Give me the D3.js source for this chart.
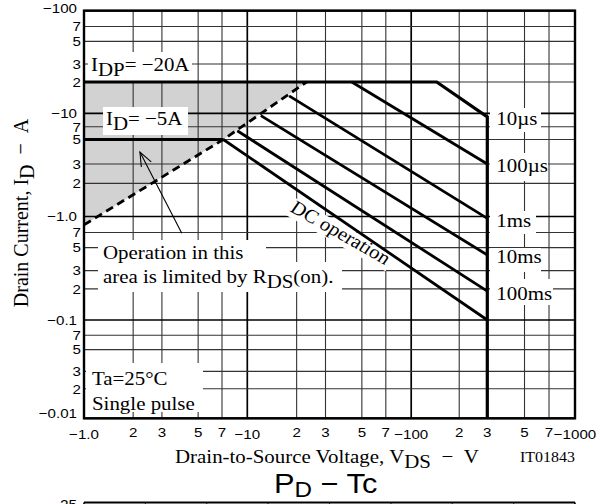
<!DOCTYPE html>
<html><head><meta charset="utf-8">
<script src="https://cdn.jsdelivr.net/npm/d3@7"></script>
<style>html,body{margin:0;padding:0;background:#fff;overflow:hidden}</style>
</head><body>
<svg id="c" width="615" height="504"></svg>
<script>
// ---------- data ----------
const xTicks = [1,2,3,5,7,10,20,30,50,70,100,200,300,500,700,1000];
const xTickLabels = ["−1.0","2","3","5","7","−10","2","3","5","7","−100","2","3","5","7","−1000"];
const yTicks = [0.01,0.02,0.03,0.05,0.07,0.1,0.2,0.3,0.5,0.7,1,2,3,5,7,10,20,30,50,70,100];
const yTickLabels = ["−0.01","2","3","5","7","−0.1","2","3","5","7","−1.0","2","3","5","7","−10","2","3","5","7","−100"];

// SOA outline: I_DP limit, 10µs power limit, V_DSS limit
const limitV = [1, 144.5, 300, 300];
const limitI = [20, 20, 9.1, 0.01];
// I_D = -5A continuous limit
const idV = [1, 7.13];
const idI = [5, 5];
// R_DS(on) limit (dashed)
const rdsV = [1, 7.13, 23.0];
const rdsI = [0.83, 5, 20];
// pulse lines
const pulseNames  = ["100µs","1ms","10ms","100ms","DC"];
const pulseStartV = [43.4, 18.0, 12.1, 8.68, 7.13];
const pulseStartI = [20, 14.7, 9.4, 6.3, 5];
const pulseEndV   = [300, 300, 300, 300, 300];
const pulseEndI   = [3.0, 0.96, 0.425, 0.19, 0.1];
// right-hand labels
const rightLabels = ["10µs","100µs","1ms","10ms","100ms"];
const rightLabelI = [9.1, 3.0, 0.96, 0.425, 0.19];
// arrow (tail -> tip) in data units
const arrowV = [3.97, 2.2];
const arrowI = [0.69, 3.85];
// next chart (P_D - Tc) partially visible
const nextTcTicks = [0,20,40,60,80,100,120,140,160];

// ---------- scales ----------
const x = d3.scaleLog().domain([1,10,100,300,1000]).range([84,247.3,411.2,487.3,575]);
const y = d3.scaleLog().domain([0.01,0.1,1,5,10,20,100]).range([418.3,320,216.5,139.5,113.3,82,10.7]);

const SERIF = "'Liberation Serif','Times New Roman',serif";
const SANS = "'Liberation Sans',Arial,Helvetica,sans-serif";
const svg = d3.select("#c");

function label(parent, px, py, parts, opt = {}) {
  const g = parent.append("g").attr("transform", `translate(${px},${py}) ${opt.rot ? "rotate(" + opt.rot + ")" : ""} scale(${opt.sx || 1.1},${opt.sy || 1})`);
  const t = g.append("text")
    .attr("font-family", opt.family || SERIF)
    .attr("font-size", opt.size || 19)
    .attr("text-anchor", opt.anchor || "start")
    .attr("fill", "#000");
  parts.forEach(p => {
    const s = t.append("tspan").text(p[0]);
    if (p[1]) s.attr("dy", p[1]);
    if (p[2]) s.attr("font-size", p[2]);
  });
  return g;
}

// ---------- shaded R_DS(on) region ----------
const shadePts = rdsV.map((v, i) => [v, rdsI[i]]).concat([[rdsV[0], 20]]);
svg.append("path")
  .attr("d", d3.line().x(d => x(d[0])).y(d => y(d[1]))(shadePts) + "Z")
  .attr("fill", "#d2d2d2").attr("stroke", "none");

// ---------- grid ----------
const isDecade = v => Math.abs(Math.log10(v) - Math.round(Math.log10(v))) < 1e-9;
const grid = svg.append("g");
grid.selectAll("line.v").data(xTicks).join("line")
  .attr("x1", d => x(d)).attr("x2", d => x(d))
  .attr("y1", y(100)).attr("y2", y(0.01))
  .attr("stroke", d => isDecade(d) ? "#000" : "#333")
  .attr("stroke-width", d => isDecade(d) ? 1.7 : 1.1);
grid.selectAll("line.h").data(yTicks).join("line")
  .attr("y1", d => y(d)).attr("y2", d => y(d))
  .attr("x1", x(1)).attr("x2", x(1000))
  .attr("stroke", d => isDecade(d) ? "#000" : "#333")
  .attr("stroke-width", d => isDecade(d) ? 1.7 : 1.1);

// ---------- white label boxes (break the grid) ----------
const boxes = [
  [88,52,192,81],
  [103,107,188,135],
  [98,240,266,265],[98,262,342,292],
  [86,363,203,412],
  [490,108,541,132],[490,153,548,181],[490,211,536,234],[490,248,541,272],[490,279,553,305]
];
svg.append("g").selectAll("rect").data(boxes).join("rect")
  .attr("x", d => d[0]).attr("y", d => d[1])
  .attr("width", d => d[2] - d[0]).attr("height", d => d[3] - d[1])
  .attr("fill", "#fff");

// DC operation label (rotated, white box behind)
const dcAng = Math.atan2(y(pulseEndI[4]) - y(pulseStartI[4]), x(pulseEndV[4]) - x(pulseStartV[4]));
const dcRot = Math.atan(Math.tan(dcAng) / 1.1) * 180 / Math.PI;
const dcG = svg.append("g").attr("transform", `translate(337,238) scale(1.1,1) rotate(${dcRot})`);
dcG.append("rect").attr("x", -55).attr("y", -14).attr("width", 110).attr("height", 19).attr("fill", "#fff");
dcG.append("text").attr("font-family", SERIF).attr("font-size", 19).attr("text-anchor", "middle").text("DC operation");

// ---------- curves ----------
const line = d3.line().x(d => x(d[0])).y(d => y(d[1]));
svg.append("path")
  .attr("d", line(rdsV.map((v, i) => [v, rdsI[i]])))
  .attr("fill", "none").attr("stroke", "#000").attr("stroke-width", 2.8)
  .attr("stroke-dasharray", "8,5");
svg.append("path")
  .attr("d", line(idV.map((v, i) => [v, idI[i]])))
  .attr("fill", "none").attr("stroke", "#000").attr("stroke-width", 3);
svg.append("path")
  .attr("d", line(limitV.map((v, i) => [v, limitI[i]])))
  .attr("fill", "none").attr("stroke", "#000").attr("stroke-width", 3.2)
  .attr("stroke-linejoin", "miter");
svg.append("g").selectAll("path").data(pulseNames).join("path")
  .attr("d", (d, i) => line([[pulseStartV[i], pulseStartI[i]], [pulseEndV[i], pulseEndI[i]]]))
  .attr("fill", "none").attr("stroke", "#000").attr("stroke-width", 2.8);

// ---------- arrow ----------
{
  const tx = x(arrowV[1]), ty = y(arrowI[1]), sx = x(arrowV[0]), sy = y(arrowI[0]);
  svg.append("line").attr("x1", sx).attr("y1", sy).attr("x2", tx).attr("y2", ty)
    .attr("stroke", "#000").attr("stroke-width", 1.1);
  const a = Math.atan2(sy - ty, sx - tx), L = 15, s = 0.38;
  const p1 = [tx + L * Math.cos(a - s), ty + L * Math.sin(a - s)];
  const p2 = [tx + L * Math.cos(a + s), ty + L * Math.sin(a + s)];
  svg.append("path").attr("d", `M${p1}L${tx},${ty}L${p2}`)
    .attr("fill", "none").attr("stroke", "#000").attr("stroke-width", 1.1);
}

// ---------- frame ----------
svg.append("rect").attr("x", x(1)).attr("y", y(100))
  .attr("width", x(1000) - x(1)).attr("height", y(0.01) - y(100))
  .attr("fill", "none").attr("stroke", "#000").attr("stroke-width", 2.4);

// ---------- tick labels ----------
yTicks.forEach((v, i) => {
  const dec = isDecade(v);
  let dy = 4.8;
  if (v === 100) dy = 2.5;
  if (v === 0.01) dy = 0;
  label(svg, dec ? 77 : 81, y(v) + dy, [[yTickLabels[i]]], {family: SANS, size: 13.5, anchor: "end", sx: 1.12});
});
xTicks.forEach((v, i) => {
  const dec = isDecade(v);
  label(svg, x(v), dec ? 438.5 : 437, [[xTickLabels[i]]], {family: SANS, size: 13.5, anchor: "middle", sx: 1.12});
});

// ---------- in-plot labels ----------
label(svg, 91, 71, [["I"], ["DP", 5], ["= −20A", -5]]);
label(svg, 106, 125, [["I"], ["D", 5], ["= −5A", -5]]);
label(svg, 103, 259, [["Operation in this"]]);
label(svg, 103, 283, [["area is limited by R"], ["DS", 5], ["(on).", -5]]);
label(svg, 92, 385, [["Ta=25°C"]]);
label(svg, 92, 410, [["Single pulse"]]);
rightLabels.forEach((t, i) => label(svg, x(300) + 9, y(rightLabelI[i]) + 8.5, [[t]]));

// ---------- axis titles ----------
label(svg, 175, 463, [["Drain-to-Source Voltage, V"], ["DS", 5], ["\u2002−\u2002V", -5]]);
label(svg, 520, 462, [["IT01843"]], {size: 14.5});
label(svg, 28, 213, [["Drain Current, I"], ["D", 5], ["\u2002−\u2002A", -5]], {size: 20, rot: -90, sx: 1, sy: 1.1, anchor: "middle"});

// ---------- next chart header (partially visible) ----------
label(svg, 274, 493.3, [["P"], ["D", 4, 22], [" − Tc", -4, 28]], {family: SANS, size: 28});
const xNext = d3.scaleLinear().domain([0, 160]).range([84, 575]);
svg.append("g").selectAll("line").data(nextTcTicks).join("line")
  .attr("x1", d => xNext(d)).attr("x2", d => xNext(d)).attr("y1", 502.5).attr("y2", 520)
  .attr("stroke", "#333").attr("stroke-width", d => (d === 0 || d === 160) ? 2 : 1.1);
svg.append("line").attr("x1", 84).attr("x2", 575).attr("y1", 502.5).attr("y2", 502.5)
  .attr("stroke", "#000").attr("stroke-width", 1.8);
label(svg, 77, 510, [["25"]], {family: SANS, size: 14, anchor: "end"});
</script>
</body></html>
